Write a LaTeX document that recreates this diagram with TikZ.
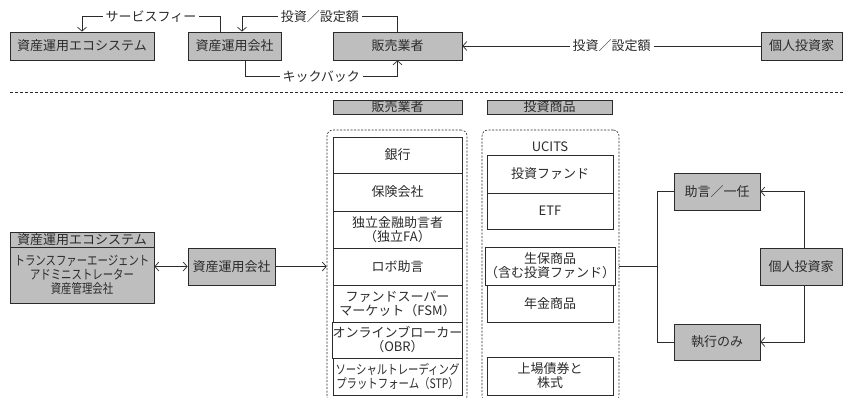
\documentclass[tikz,border=0pt]{standalone}
\usepackage{fontspec}
\setmainfont{Noto Sans CJK JP}
\newfontfamily\narrowjp[FakeStretch=0.8]{Noto Sans CJK JP}
\usetikzlibrary{arrows.meta}
\definecolor{boxgray}{HTML}{BEBEBE}
\definecolor{ink}{HTML}{2B2B2B}
\begin{document}
\begin{tikzpicture}[x=1pt,y=-1pt,
  font=\fontsize{13}{14}\selectfont, text=ink,
  gbox/.style={draw=ink, fill=boxgray, line width=0.8pt, inner sep=0pt, align=center},
  wbox/.style={draw=ink, fill=white, line width=0.8pt, inner sep=0pt, align=center},
  lnk/.style={draw=ink, line width=0.7pt},
  arr/.style={lnk, -{Straight Barb[length=4pt,width=9pt]}},
  darr/.style={lnk, {Straight Barb[length=4pt,width=9pt]}-{Straight Barb[length=4pt,width=9pt]}},
  lbl/.style={fill=white, inner sep=3pt},
  cont/.style={draw=ink, line width=0.6pt, dash pattern=on 2pt off 1.5pt, rounded corners=6pt, inner sep=0pt},
  col1/.style={wbox, minimum width=129pt},
  col2/.style={wbox, minimum width=126pt}]
\useasboundingbox (0,0) rectangle (843,398);

% ---------- top row ----------
\node[gbox, minimum width=144pt, minimum height=28pt] (eco1) at (82,46) {資産運用エコシステム};
\node[gbox, minimum width=93pt, minimum height=28pt] (am1) at (234.5,46) {資産運用会社};
\node[gbox, minimum width=129pt, minimum height=28pt] (dist1) at (397.5,46) {販売業者};
\node[gbox, minimum width=81pt, minimum height=28pt] (inv1) at (801.5,46) {個人投資家};

\coordinate (am1a) at ([xshift=-14.5pt]am1.north);
\coordinate (am1b) at ([xshift=7.5pt]am1.north);
\coordinate (am1c) at ([xshift=10.5pt]am1.south);

\draw[arr] (am1a) -- ++(0,-15) coordinate (c1)
  -- node[lbl] {サービスフィー} (c1 -| eco1.north) -- (eco1.north);
\draw[arr] (dist1.north) -- ++(0,-15) coordinate (c2)
  -- node[lbl] {投資／設定額} (c2 -| am1b) -- (am1b);
\draw[arr] (am1c) -- ++(0,16) coordinate (c3)
  -- node[lbl] {キックバック} (c3 -| dist1.south) -- (dist1.south);
\draw[arr] (inv1.west) -- node[lbl] {投資／設定額} (dist1.east);

% separator
\draw[ink, line width=0.7pt, dash pattern=on 3pt off 2pt] (10,92) -- (843,92);

% ---------- headers ----------
\node[gbox, minimum width=129pt, minimum height=14pt] (hd1) at (397.5,107) {販売業者};
\node[gbox, minimum width=125pt, minimum height=14pt] (hd2) at (549.5,107) {投資商品};

% ---------- containers ----------
\node[cont, minimum width=140pt, minimum height=272pt] (cont1) at (397,266) {};
\node[cont, minimum width=137pt, minimum height=272pt] (cont2) at (550.5,266) {};

% ---------- distributors ----------
\node[col1, minimum height=36pt] (d1) at (397.5,155) {銀行};
\node[col1, minimum height=38pt] (d2) at (397.5,192) {保険会社};
\node[col1, minimum height=37pt] (d3) at (397.5,229.5) {独立金融助言者\\（独立FA）};
\node[col1, minimum height=37pt] (d4) at (397.5,266.5) {ロボ助言};
\node[col1, minimum height=37pt] (d5) at (397.5,303.5) {ファンドスーパー\\マーケット（FSM）};
\node[col1, minimum height=36pt] (d6) at (397.5,340) {オンラインブローカー\\（OBR）};
\node[col1, minimum height=37pt, font=\narrowjp\fontsize{13}{14}\selectfont] (d7) at (397.5,376.5) {ソーシャルトレーディング\\プラットフォーム（STP）};

% ---------- products ----------
\node (ucits) at (550,147) {UCITS};
\node[col2, minimum height=38pt] (p1) at (550,174) {投資ファンド};
\node[col2, minimum height=36pt] (p2) at (550,211) {ETF};
\node[col2, minimum height=38pt] (p3) at (550,266) {生保商品\\（含む投資ファンド）};
\node[col2, minimum height=37pt] (p4) at (550,303.5) {年金商品};
\node[col2, minimum height=38pt] (p5) at (550,376) {上場債券と\\株式};

% ---------- lower left ----------
\node[gbox, minimum width=144pt, minimum height=15pt] (eco2h) at (82,239.5) {資産運用エコシステム};
\node[gbox, minimum width=144pt, minimum height=56pt, font=\narrowjp\fontsize{13}{14}\selectfont] (eco2b) at (82,275) {トランスファーエージェント\\アドミニストレーター\\資産管理会社};
\node[gbox, minimum width=87pt, minimum height=37pt] (am2) at (231.5,266.5) {資産運用会社};
\draw[darr] (eco2b.east |- am2.west) -- (am2.west);
\draw[arr] (am2.east) -- (am2.east -| cont1.west);

% ---------- right ----------
\node[gbox, minimum width=86pt, minimum height=37pt] (adv) at (717,191.5) {助言／一任};
\node[gbox, minimum width=86pt, minimum height=36pt] (exe) at (717,342) {執行のみ};
\node[gbox, minimum width=82pt, minimum height=37pt] (inv2) at (801,266.5) {個人投資家};

\coordinate (jstart) at (cont2.east |- p3.center);
\draw[lnk] (jstart) -- ++(38,0) coordinate (j);
\draw[lnk] (adv.west) -| (j) |- (exe.west);
\draw[arr] ([xshift=3pt]inv2.north) |- (adv.east);
\draw[arr] ([xshift=3pt]inv2.south) |- (exe.east);
\end{tikzpicture}
\end{document}
